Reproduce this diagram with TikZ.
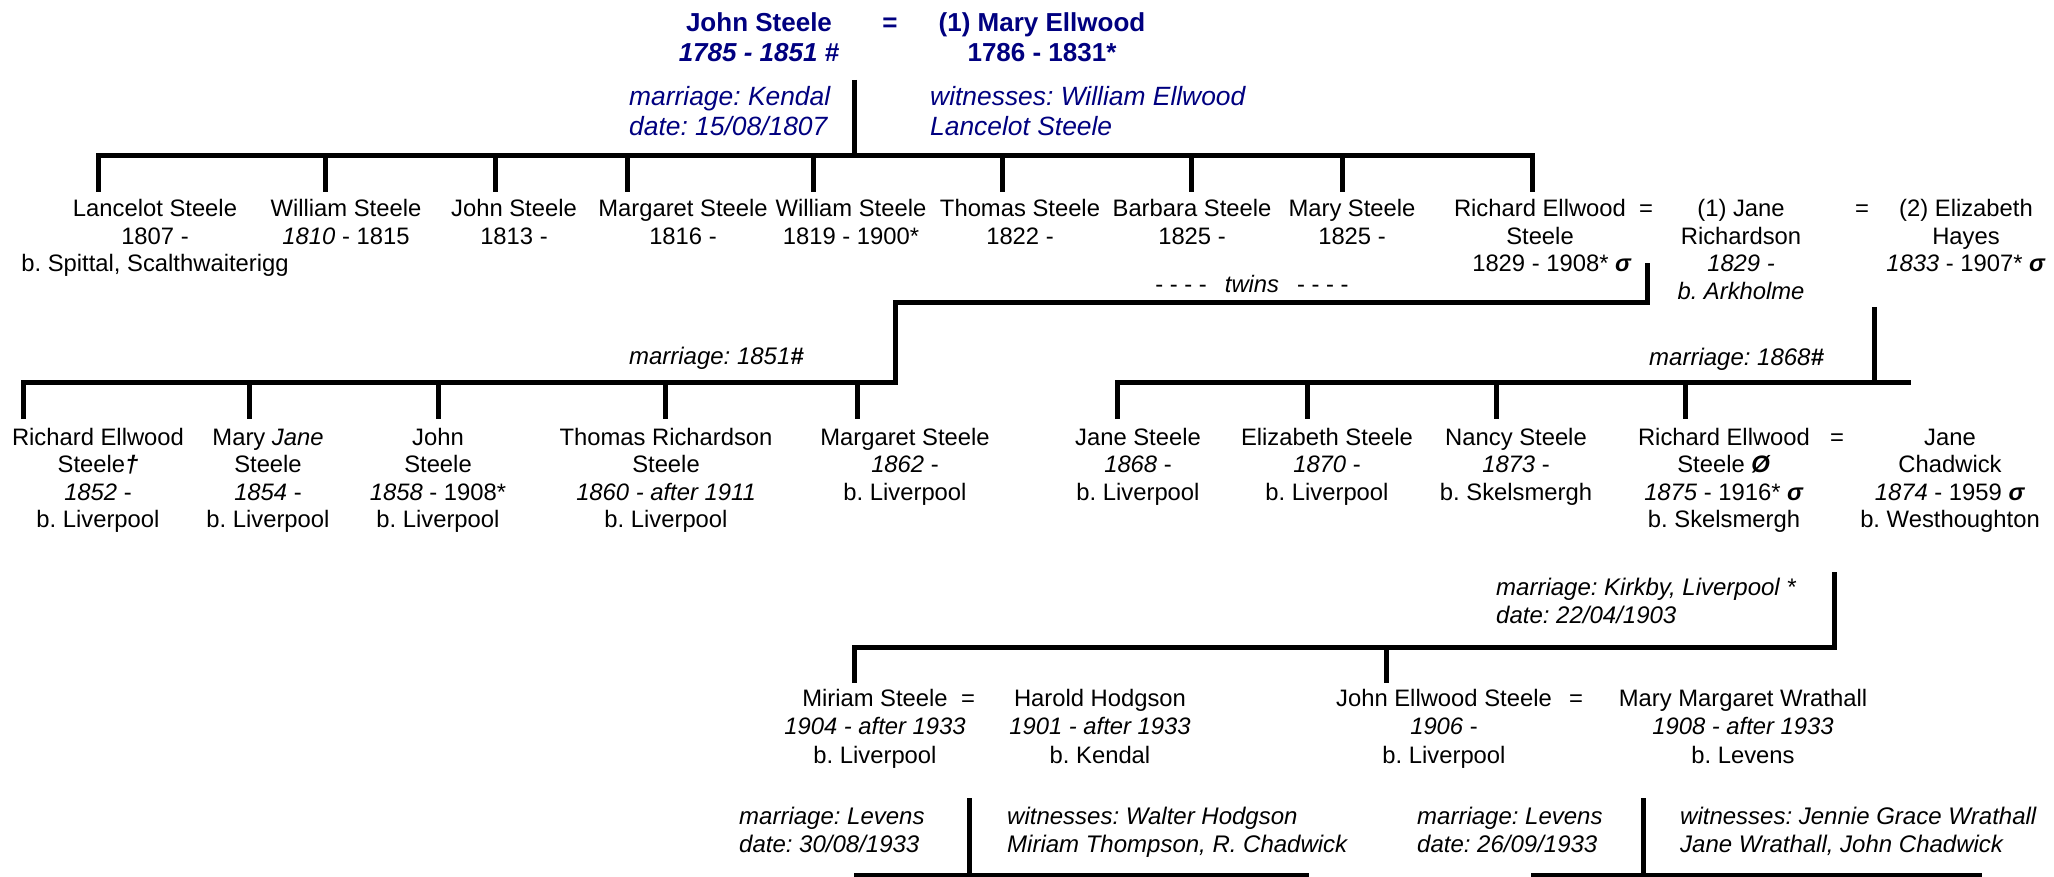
\documentclass[tikz,border=0pt]{standalone}
\usepackage{fontspec}
\setmainfont{Liberation Sans}
\frenchspacing
\definecolor{navyc}{RGB}{0,0,128}
\newcommand{\gsym}{\textbf{\textit{σ}}}
\tikzset{
  conn/.style={line width=5pt, line join=miter, line cap=butt},
  person/.style={align=center, inner sep=0pt, anchor=base, font=\fontsize{23.8}{27.5}\selectfont},
  personc/.style={align=center, inner sep=0pt, anchor=base, font=\fontsize{23.8}{28.5}\selectfont},
  eqs/.style={inner sep=0pt, anchor=base, font=\fontsize{23.8}{27.5}\selectfont},
  note/.style={align=left, inner sep=0pt, anchor=base west, font=\fontsize{24}{28.5}\selectfont\itshape},
  topnote/.style={align=left, inner sep=0pt, anchor=base west, text=navyc, font=\fontsize{26.4}{30}\selectfont\itshape},
  topname/.style={align=center, inner sep=0pt, anchor=base, text=navyc, font=\fontsize{26}{30}\selectfont\bfseries},
}
\begin{document}
\begin{tikzpicture}[x=1pt,y=-1pt]
\fill[white] (0,0) rectangle (2054,877);
\useasboundingbox (0,0) rectangle (2054,877);

% (node positions are the baseline of the LAST line of each text)
% ---------- generation 0 ----------
\node[topname] (js) at (759,62) {John Steele\\\textit{1785 - 1851 \#}};
\node[topname] (eq0) at (890,32) {=};
\node[topname] (me) at (1042,62) {(1) Mary Ellwood\\1786 - 1831*};
\node[topnote] (m0) at (629,136) {marriage: Kendal\\date: 15/08/1807};
\node[topnote] (w0) at (930,136) {witnesses: William Ellwood\\Lancelot Steele};

% ---------- generation 1 ----------
\node[person] (lancelot) at (155,272) {Lancelot Steele\\1807 -\\b. Spittal, Scalthwaiterigg};
\node[person] (william1) at (346,244.5) {William Steele\\\textit{1810} - 1815};
\node[person] (john1) at (514,244.5) {John Steele\\1813 -};
\node[person] (margaret1) at (683,244.5) {Margaret Steele\\1816 -};
\node[person] (william2) at (851,244.5) {William Steele\\1819 - 1900*};
\node[person] (thomas1) at (1020,244.5) {Thomas Steele\\1822 -};
\node[person] (barbara) at (1192,244.5) {Barbara Steele\\1825 -};
\node[person] (mary1) at (1352,244.5) {Mary Steele\\1825 -};
\node[person] (richard1) at (1540,272) {Richard Ellwood\\Steele\\\hspace*{24pt}1829 - 1908* \gsym};
\node[eqs] (eq1a) at (1646,217) {=};
\node[person] (jane1) at (1741,299.5) {(1) Jane\\Richardson\\\textit{1829 -}\\\textit{b. Arkholme}};
\node[eqs] (eq1b) at (1862,217) {=};
\node[person] (elizabeth1) at (1966,272) {(2) Elizabeth\\Hayes\\\textit{1833} - 1907* \gsym};
\node[person] (twins) at (1252,293) {- - - -\hspace{18pt}\textit{twins}\hspace{18pt}- - - -};

\node[note, anchor=base east] (m1851) at (804,364) {marriage: 1851\textbf{\#}};
\node[note] (m1868) at (1649,366) {marriage: 1868\textbf{\#}};

% ---------- generation 2 ----------
\node[person] (richard2a) at (98,527.5) {Richard Ellwood\\Steele\textbf{\textit{†}}\\\textit{1852} -\\b. Liverpool};
\node[person] (maryjane) at (268,527.5) {Mary \textit{Jane}\\Steele\\\textit{1854} -\\b. Liverpool};
\node[person] (john2) at (438,527.5) {John\\Steele\\\textit{1858} - 1908*\\b. Liverpool};
\node[person] (thomas2) at (666,527.5) {Thomas Richardson\\Steele\\\textit{1860 - after 1911}\\b. Liverpool};
\node[person] (margaret2) at (905,500) {Margaret Steele\\\textit{1862} -\\b. Liverpool};
\node[person] (jane2) at (1138,500) {Jane Steele\\\textit{1868} -\\b. Liverpool};
\node[person] (elizabeth2) at (1327,500) {Elizabeth Steele\\\textit{1870} -\\b. Liverpool};
\node[person] (nancy) at (1516,500) {Nancy Steele\\\textit{1873} -\\b. Skelsmergh};
\node[person] (richard2b) at (1724,527.5) {Richard Ellwood\\Steele \textbf{\textit{Ø}}\\\textit{1875} - 1916* \gsym\\b. Skelsmergh};
\node[eqs] (eq2) at (1837,445) {=};
\node[person] (janec) at (1950,527.5) {Jane\\Chadwick\\\textit{1874} - 1959 \gsym\\b. Westhoughton};

\node[note] (mkirkby) at (1496,623.5) {marriage: Kirkby, Liverpool *\\date: 22/04/1903};

% ---------- generation 3 ----------
\node[personc] (miriam) at (875,763) {Miriam Steele\\\textit{1904 - after 1933}\\b. Liverpool};
\node[eqs] (eq3a) at (968,706) {=};
\node[personc] (harold) at (1100,763) {Harold Hodgson\\\textit{1901 - after 1933}\\b. Kendal};
\node[personc] (johne) at (1444,763) {John Ellwood Steele\\\textit{1906} -\\b. Liverpool};
\node[eqs] (eq3b) at (1576,706) {=};
\node[personc] (marym) at (1743,763) {Mary Margaret Wrathall\\\textit{1908 - after 1933}\\b. Levens};

\node[note] (m3a) at (739,852.5) {marriage: Levens\\date: 30/08/1933};
\node[note] (w3a) at (1007,852.5) {witnesses: Walter Hodgson\\Miriam Thompson, R. Chadwick};
\node[note] (m3b) at (1417,852.5) {marriage: Levens\\date: 26/09/1933};
\node[note] (w3b) at (1680,852.5) {witnesses: Jennie Grace Wrathall\\Jane Wrathall, John Chadwick};

% ---------- connector coordinates ----------
\coordinate (t0) at (854,80);
\coordinate (t1) at (854,156);
\coordinate (g1a) at (98,192);   \coordinate (g1b) at (98,156);
\coordinate (g1c) at (1532,156); \coordinate (g1d) at (1532,192);
\foreach \x [count=\i] in {325,495,627,813,1002,1191,1342}{
  \coordinate (d1t\i) at (\x,156);
  \coordinate (d1b\i) at (\x,192);
}
\coordinate (g2a) at (23,419);   \coordinate (g2b) at (23,382);
\coordinate (g2c) at (895,382);  \coordinate (g2d) at (895,303);
\coordinate (g2e) at (1647,303); \coordinate (g2f) at (1647,263);
\foreach \x [count=\i] in {249,438,665,857}{
  \coordinate (d2t\i) at (\x,382);
  \coordinate (d2b\i) at (\x,419);
}
\coordinate (h2a) at (1117,419); \coordinate (h2b) at (1117,382);
\coordinate (h2c) at (1911,382);
\coordinate (e2a) at (1874,307); \coordinate (e2b) at (1874,382);
\foreach \x [count=\i] in {1307,1496,1685}{
  \coordinate (d3t\i) at (\x,382);
  \coordinate (d3b\i) at (\x,419);
}
\coordinate (g3a) at (1834,572); \coordinate (g3b) at (1834,647);
\coordinate (g3c) at (854,647);  \coordinate (g3d) at (854,683);
\coordinate (g3e) at (1386,647); \coordinate (g3f) at (1386,683);
\coordinate (b1a) at (969,798);  \coordinate (b1b) at (969,875);
\coordinate (b1c) at (854,875);  \coordinate (b1d) at (1309,875);
\coordinate (b2a) at (1643,798); \coordinate (b2b) at (1643,875);
\coordinate (b2c) at (1531,875); \coordinate (b2d) at (1982,875);

% ---------- connectors ----------
\draw[conn] (t0) -- (t1);
\draw[conn] (g1a) -- (g1b) -- (g1c) -- (g1d);
\foreach \i in {1,...,7}{ \draw[conn] (d1t\i) -- (d1b\i); }
\draw[conn] (g2a) -- (g2b) -- (g2c) -- (g2d) -- (g2e) -- (g2f);
\foreach \i in {1,...,4}{ \draw[conn] (d2t\i) -- (d2b\i); }
\draw[conn] (h2a) -- (h2b) -- (h2c);
\draw[conn] (e2a) -- (e2b);
\foreach \i in {1,...,3}{ \draw[conn] (d3t\i) -- (d3b\i); }
\draw[conn] (g3a) -- (g3b) -- (g3c) -- (g3d);
\draw[conn] (g3e) -- (g3f);
\draw[conn] (b1a) -- (b1b);
\draw[conn] (b1c) -- (b1d);
\draw[conn] (b2a) -- (b2b);
\draw[conn] (b2c) -- (b2d);
\end{tikzpicture}
\end{document}
